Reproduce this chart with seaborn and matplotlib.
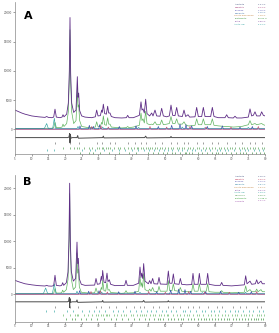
"""
plot.py
Two stacked Rietveld-style refinement plots (A and B) saved to out.png.
"""

import matplotlib
matplotlib.use('Agg')
import matplotlib.pyplot as plt
import seaborn as sns

# ---------------- panel A data ----------------
tot_a_x = [5, 6, 7, 8, 9, 10, 12, 14, 14.5, 15, 16, 16.6, 17.0, 17.4, 18.5, 19.1, 19.4, 19.7,
           20.5, 21.0, 21.3, 21.5, 21.7, 22.0, 22.6, 23.3, 23.5, 23.7, 23.9, 24.1, 24.4, 25.0,
           26, 27, 28, 29.1, 29.5, 29.9, 30.6, 31.0, 31.2, 31.5, 31.9, 32.4, 32.8, 33.1, 33.5,
           33.9, 35, 37, 38.4, 38.8, 39.2, 40.5, 42.3, 42.8, 43.1, 43.4, 43.8, 44.2, 44.6, 45.4,
           46.0, 46.4, 47.0, 47.5, 48.5, 49.0, 49.5, 50.5, 51.3, 51.8, 52.3, 53.0, 53.5, 54.0,
           55.2, 55.7, 56.2, 56.9, 57.4, 59.0, 59.5, 60.0, 61.0, 61.5, 62.0, 63.7, 64.2, 64.7,
           66, 68.0, 68.5, 69.0, 70.5, 71.0, 71.5, 73, 75.0, 75.5, 76.0, 76.5, 77.0, 77.5, 78.5,
           79.0, 79.5, 80]
tot_a_y = [3300, 3050, 2800, 2600, 2450, 2300, 2150, 2050, 2200, 2050, 2000, 2100, 3450, 2100,
           2000, 2100, 2500, 2150, 2600, 4500, 10000, 19100, 9500, 4500, 2900, 3300, 6000, 9000,
           5500, 6200, 3200, 2300, 2100, 2050, 2000, 2150, 3300, 2300, 2350, 3300, 2900, 4300,
           2700, 2600, 3950, 2800, 2800, 2200, 2000, 1950, 2000, 2400, 2000, 2000, 2400, 4700,
           3300, 3500, 2800, 5150, 2700, 2300, 2800, 2300, 3300, 2300, 2250, 3600, 2300, 2150,
           2300, 4150, 2400, 2350, 3750, 2300, 2200, 3300, 2200, 2500, 2100, 2150, 3750, 2200,
           2200, 3750, 2200, 2200, 3750, 2200, 2000, 2000, 2500, 2000, 1950, 2250, 1950, 1950,
           2100, 3500, 2300, 2400, 3000, 2300, 2300, 3000, 2400, 2300]

main_a_x = [5, 10, 16, 16.6, 17.0, 17.4, 18.5, 19.1, 19.4, 19.7, 20.5, 21.0, 21.3, 21.5, 21.7,
            22.0, 22.6, 23.3, 23.5, 23.7, 23.9, 24.1, 24.4, 25.0, 27, 29.1, 29.5, 29.9, 30.6,
            31.0, 31.2, 31.5, 31.9, 32.4, 32.8, 33.1, 33.5, 33.9, 37, 38.4, 38.8, 39.2, 40.5,
            42.3, 42.8, 43.1, 43.4, 43.8, 44.2, 44.6, 45.4, 46.0, 46.4, 47.0, 47.5, 48.5, 49.0,
            49.5, 50.5, 51.3, 51.8, 52.3, 53.0, 53.5, 54.0, 55.2, 55.7, 56.2, 56.9, 57.4, 59.0,
            59.5, 60.0, 61.0, 61.5, 62.0, 63.7, 64.2, 64.7, 66, 68.0, 68.5, 70.5, 73, 75.0, 75.5,
            76.0, 77.0, 77.5, 79.0, 79.5, 80]
main_a_y = [150, 150, 200, 250, 1200, 300, 300, 400, 900, 500, 1000, 3000, 8500, 17000, 8000,
            3000, 1000, 1500, 4000, 7000, 3800, 4200, 1500, 500, 300, 400, 1300, 500, 500,
            1200, 900, 2300, 800, 700, 2000, 900, 900, 400, 250, 300, 500, 300, 400,
            700, 2800, 1500, 1800, 1100, 3100, 1000, 800, 900, 800, 1300, 800, 800, 1600,
            800, 900, 1000, 2200, 1000, 1000, 1800, 900, 900, 1300, 800, 600, 600, 700,
            1800, 800, 800, 1800, 800, 800, 1800, 700, 600, 500, 500, 400, 500, 800, 1500,
            800, 1000, 800, 1000, 800, 700]

teal_a_x = [5, 13.8, 14.5, 15.0, 16.3, 16.8, 17.2, 23.6, 23.9, 24.2, 31.0, 31.3, 31.6,
            41.8, 42.1, 42.4, 54.9, 55.2, 55.5, 61.7, 62.0, 62.3, 74.7, 75.0, 75.3, 80]
teal_a_y = [150, 150, 1000, 150, 150, 1900, 150, 150, 500, 150, 150, 400, 150,
            150, 350, 150, 150, 400, 150, 150, 300, 150, 150, 350, 150, 150]

blue_a_x = [5, 24.2, 24.5, 24.8, 27.0, 27.3, 27.6, 28.2, 28.5, 28.8, 30.1, 30.4, 30.7,
            36.0, 36.3, 36.6, 41.0, 41.3, 41.6, 47.7, 48.0, 48.3, 51.7, 52.0, 52.3,
            54.2, 54.5, 54.8, 56.0, 56.3, 56.6, 57.7, 58.0, 58.3, 62.4, 62.7, 63.0,
            66.9, 67.2, 67.5, 72.2, 72.5, 72.8, 75.9, 76.2, 76.5, 80]
blue_a_y = [60, 60, 600, 60, 60, 700, 60, 60, 500, 60, 60, 800, 60,
            60, 500, 60, 60, 600, 60, 60, 500, 60, 60, 700, 60,
            60, 900, 60, 60, 800, 60, 60, 600, 60, 60, 500, 60,
            60, 600, 60, 60, 400, 60, 60, 500, 60, 60]

red_a_x = [5, 27.7, 28.0, 28.3, 30.5, 30.8, 31.1, 32.7, 33.0, 33.3, 45.2, 45.5, 45.8,
           50.2, 50.5, 50.8, 57.2, 57.5, 57.8, 62.0, 62.3, 62.6, 69.5, 69.8, 70.1,
           77.7, 78.0, 78.3, 80]
red_a_y = [30, 30, 500, 30, 30, 600, 30, 30, 400, 30, 30, 500, 30,
           30, 400, 30, 30, 500, 30, 30, 400, 30, 30, 400, 30,
           30, 500, 30, 30]

diff_a_x = [5, 20.8, 21.2, 21.4, 21.5, 21.6, 21.8, 22.2, 23.6, 23.8, 24.0, 31.3, 31.5, 31.7,
            43.9, 44.2, 44.5, 51.6, 51.8, 52.0, 80]
diff_a_y = [-1400, -1400, -1300, -700, -2300, -900, -1500, -1400, -1400, -1050, -1500,
            -1400, -1150, -1450, -1400, -1150, -1450, -1400, -1200, -1400, -1400]

ticks_a_1 = [17.0, 21.5, 24.1, 29.5, 31.0, 33.5, 35.0, 38.8, 41.0, 42.8, 44.2, 47.0, 49.0,
             51.8, 53.5, 55.7, 57.0, 59.5, 61.5, 64.2, 66.0, 68.5, 71.0, 73.0, 75.5, 77.0, 79.0]
ticks_a_2 = [19.4, 21.5, 22.8, 23.7, 24.1, 25.6, 27.2, 28.0, 29.5, 30.2, 31.0, 31.5, 32.3,
             32.8, 33.5, 34.6, 35.8, 36.6, 37.8, 38.8, 39.7, 40.6, 41.5, 42.0, 42.8, 43.4,
             44.2, 45.0, 45.6, 46.0, 47.0, 47.7, 48.4, 49.0, 50.0, 50.9, 51.8, 52.4, 53.5,
             54.3, 55.0, 55.7, 56.9, 57.6, 58.4, 59.5, 60.3, 61.5, 62.3, 63.1, 64.2, 65.0,
             66.1, 66.8, 67.7, 68.5, 69.4, 70.2, 71.0, 72.1, 73.0, 73.8, 74.6, 75.5, 76.3,
             77.0, 77.9, 79.0, 79.6]
ticks_a_3 = [14.5, 16.8, 25.2, 27.5, 29.0, 31.8, 34.0, 36.2, 38.0, 40.2, 41.9, 43.7, 45.3,
             46.8, 48.2, 49.6, 51.0, 52.1, 53.9, 55.2, 56.5, 58.0, 59.1, 60.7, 62.0, 63.5,
             65.5, 66.4, 68.0, 69.0, 70.6, 72.5, 74.0, 75.0, 76.8, 78.3, 79.3]
ticks_a_4 = [24.5, 27.3, 28.5, 30.4, 33.2, 36.3, 39.1, 41.3, 44.9, 46.3, 48.0, 49.3, 50.6,
             52.0, 53.1, 54.5, 55.9, 56.3, 57.2, 58.0, 59.8, 61.2, 62.7, 64.0, 65.2, 66.0,
             67.2, 68.3, 69.7, 71.4, 72.5, 73.5, 74.3, 76.2, 77.4, 78.6, 79.8]

legend_a_names = ['Anorthite', 'Hematite', 'Diopside', 'Gehlenite', 'Calcite magnesian',
                  'Cristobalite', 'Rutile', 'Albite low']
legend_a_values = ['2.61 %', '3.14 %', '1.75 %', '4.02 %', '1.28 %', '80.94 %', '0.82 %',
                   '5.44 %']
legend_a_colors = ['#3b4a7a', '#a03070', '#4a4ab0', '#3a70a8', '#c0803a', '#2e8b2e',
                   '#7a3a9a', '#2aa0a0']

# ---------------- panel B data ----------------
tot_b_x = [5, 6, 7, 8, 9, 10, 12, 14, 14.5, 15, 16, 16.6, 17.0, 17.4, 18.5, 19.0, 19.3, 19.6,
           20.4, 20.9, 21.2, 21.4, 21.6, 21.9, 22.5, 23.2, 23.4, 23.6, 23.8, 24.0, 24.3, 24.9,
           26, 28.9, 29.3, 29.7, 30.5, 30.9, 31.1, 31.3, 31.7, 32.2, 32.6, 32.9, 33.3, 33.7,
           35, 37.9, 38.3, 38.7, 40.5, 42.1, 42.5, 42.8, 43.0, 43.3, 43.6, 44.0, 45.0, 45.4,
           45.8, 46.3, 46.7, 47.8, 48.2, 48.6, 50.6, 51.0, 51.4, 52.1, 52.5, 52.9, 54.2, 54.6,
           55.0, 56.5, 58.0, 58.4, 58.8, 59.9, 60.3, 60.7, 62.4, 62.8, 63.2, 65, 66.6, 67.0,
           67.4, 70, 73.8, 74.2, 74.6, 75.5, 76.0, 77.1, 77.5, 77.9, 78.8, 79.2, 80]
tot_b_y = [2650, 2400, 2200, 2000, 1900, 1800, 1650, 1580, 1700, 1580, 1550, 1650, 3600, 1700,
           1600, 1700, 2200, 1700, 2200, 4200, 10500, 20950, 10000, 4300, 2500, 3000, 6500,
           9850, 5800, 6800, 2900, 1900, 1700, 1750, 3000, 1900, 2000, 3400, 2600, 4500, 2300,
           2200, 4000, 2400, 2750, 1900, 1650, 1700, 2650, 1700, 1700, 2100, 5150, 3200, 4000,
           3000, 5800, 2500, 2000, 2600, 2000, 3000, 2000, 1950, 3200, 1950, 1900, 4400, 2100,
           2100, 3850, 2000, 1900, 3000, 1900, 1800, 1850, 3950, 1900, 1900, 3950, 1900, 1900,
           3950, 1900, 1700, 1700, 2250, 1700, 1600, 1800, 3500, 2000, 2500, 1900, 2000, 2750,
           2000, 2500, 2000, 2000]

main_b_x = [5, 10, 16, 16.6, 17.0, 17.4, 18.5, 19.0, 19.3, 19.6, 20.4, 20.9, 21.2, 21.4, 21.6,
            21.9, 22.5, 23.2, 23.4, 23.6, 23.8, 24.0, 24.3, 24.9, 27, 28.9, 29.3, 29.7, 30.5,
            30.9, 31.1, 31.3, 31.7, 32.2, 32.6, 32.9, 33.3, 33.7, 37, 37.9, 38.3, 38.7, 40.5,
            42.1, 42.5, 42.8, 43.0, 43.3, 43.6, 44.0, 45.0, 45.4, 45.8, 46.3, 46.7, 47.8, 48.2,
            48.6, 50.6, 51.0, 51.4, 52.1, 52.5, 52.9, 54.2, 54.6, 55.0, 56.5, 58.0, 58.4, 58.8,
            59.9, 60.3, 60.7, 62.4, 62.8, 63.2, 65, 66.6, 67.0, 67.4, 70, 73.8, 74.2, 74.6,
            75.5, 76.0, 77.1, 77.5, 77.9, 78.8, 79.2, 80]
main_b_y = [100, 100, 150, 200, 1100, 250, 250, 300, 800, 400, 900, 2800, 9000, 19000, 8500,
            2900, 900, 1400, 4500, 7800, 4000, 4800, 1400, 400, 250, 300, 1200, 400, 400,
            1300, 900, 2600, 700, 600, 2200, 800, 900, 350, 200, 250, 700, 250, 300,
            600, 3300, 1500, 2200, 1300, 3900, 900, 600, 1000, 600, 1300, 600, 500, 1500,
            600, 600, 2600, 700, 700, 2000, 700, 600, 1300, 600, 500, 500, 2000, 600,
            600, 2000, 600, 600, 2000, 500, 400, 400, 700, 400, 300, 400, 1600, 500,
            900, 500, 500, 1000, 500, 900, 500, 500]

teal_b_x = [5, 13.5, 14.2, 14.8, 16.2, 16.8, 17.3, 23.3, 23.6, 23.9, 30.7, 31.0, 31.3,
            42.2, 42.5, 42.8, 53.9, 54.2, 54.5, 60.9, 61.2, 61.5, 73.9, 74.2, 74.5, 80]
teal_b_y = [120, 120, 1200, 120, 120, 2000, 120, 120, 600, 120, 120, 450, 120,
            120, 400, 120, 120, 450, 120, 120, 350, 120, 120, 400, 120, 120]

blue_b_x = [5, 24.1, 24.4, 24.7, 26.8, 27.1, 27.4, 29.9, 30.2, 30.5, 35.8, 36.1, 36.4,
            40.7, 41.0, 41.3, 47.2, 47.5, 47.8, 51.4, 51.7, 52.0, 53.8, 54.1, 54.4,
            55.7, 56.0, 56.3, 57.4, 57.7, 58.0, 61.9, 62.2, 62.5, 66.4, 66.7, 67.0,
            71.8, 72.1, 72.4, 75.6, 75.9, 76.2, 80]
blue_b_y = [60, 60, 700, 60, 60, 600, 60, 60, 700, 60, 60, 500, 60,
            60, 600, 60, 60, 500, 60, 60, 800, 60, 60, 1000, 60,
            60, 900, 60, 60, 600, 60, 60, 500, 60, 60, 600, 60,
            60, 400, 60, 60, 500, 60, 60]

red_b_x = [5, 27.5, 27.8, 28.1, 30.3, 30.6, 30.9, 32.4, 32.7, 33.0, 44.8, 45.1, 45.4,
           49.8, 50.1, 50.4, 56.8, 57.1, 57.4, 61.6, 61.9, 62.2, 69.0, 69.3, 69.6,
           77.2, 77.5, 77.8, 80]
red_b_y = [30, 30, 550, 30, 30, 650, 30, 30, 450, 30, 30, 550, 30,
           30, 400, 30, 30, 550, 30, 30, 450, 30, 30, 400, 30,
           30, 550, 30, 30]

diff_b_x = [5, 20.7, 21.1, 21.3, 21.4, 21.5, 21.7, 22.1, 23.4, 23.6, 23.8, 31.1, 31.3, 31.5,
            43.3, 43.6, 43.9, 50.8, 51.0, 51.2, 80]
diff_b_y = [-1400, -1400, -1300, -600, -2500, -800, -1500, -1400, -1400, -1050, -1500,
            -1400, -1150, -1450, -1400, -1150, -1450, -1400, -1200, -1400, -1400]

ticks_b_1 = [17.0, 21.4, 24.0, 29.3, 30.9, 33.3, 35.2, 38.3, 40.8, 42.5, 43.6, 46.3, 48.2,
             51.0, 52.5, 54.6, 56.8, 58.4, 60.3, 62.8, 65.5, 67.0, 70.3, 72.6, 74.2, 77.5, 78.8]
ticks_b_2 = [14.2, 16.8, 20.6, 22.4, 25.0, 27.3, 28.6, 30.2, 32.0, 34.4, 36.0, 37.5, 39.4,
             41.3, 42.9, 44.6, 45.9, 47.4, 49.0, 50.3, 51.7, 53.2, 55.4, 56.1, 57.5, 59.2,
             61.0, 61.9, 63.7, 64.6, 66.2, 68.1, 69.4, 71.0, 72.0, 73.3, 75.1, 76.4, 78.1, 79.5]
ticks_b_3 = [19.3, 21.4, 22.9, 23.6, 24.0, 25.8, 27.0, 28.2, 29.3, 30.0, 30.9, 31.3, 32.2,
             32.6, 33.3, 34.8, 35.6, 36.9, 37.6, 38.3, 39.9, 40.4, 41.7, 42.5, 43.0, 43.6,
             44.3, 45.4, 46.3, 47.1, 48.2, 48.9, 49.8, 50.5, 51.0, 52.5, 53.6, 54.6, 55.8,
             56.6, 57.3, 58.4, 59.6, 60.3, 61.4, 62.8, 63.9, 64.9, 65.8, 67.0, 67.9, 68.8,
             70.0, 70.9, 71.7, 72.8, 73.6, 74.2, 75.3, 76.1, 77.5, 78.3, 78.8, 79.7]
ticks_b_4 = [20.2, 22.0, 23.1, 24.7, 26.3, 27.9, 29.7, 31.6, 33.7, 35.4, 37.2, 39.0, 40.6,
             42.1, 44.0, 45.1, 46.7, 47.8, 48.6, 49.4, 50.8, 51.9, 52.8, 53.9, 54.9, 55.5,
             56.9, 57.9, 58.8, 59.9, 60.7, 61.6, 62.4, 63.3, 64.2, 65.1, 66.0, 66.8, 67.6,
             68.5, 69.2, 70.4, 71.3, 72.3, 73.1, 73.9, 74.8, 75.7, 76.6, 77.2, 78.0, 78.9,
             79.4]

legend_b_names = ['Anorthite', 'Hematite', 'Diopside', 'Gehlenite', 'Calcite magnesian',
                  'Rutile', 'Albite low', 'Microcline', 'Cristobalite', 'Tridymite']
legend_b_values = ['2.05 %', '3.60 %', '1.12 %', '3.87 %', '1.51 %', '0.97 %', '4.93 %',
                   '6.20 %', '71.38 %', '4.37 %']
legend_b_colors = ['#3b4a7a', '#c03050', '#5050b0', '#2a80a0', '#c0803a', '#7a3a9a',
                   '#2aa0a0', '#3a8a3a', '#2e9b2e', '#9a4aa8']

x_ticks = [5, 10, 15, 20, 25, 30, 35, 40, 45, 50, 55, 60, 65, 70, 75, 80]
y_ticks = [0, 5000, 10000, 15000, 20000]

C_TOTAL = '#5e2d86'
C_MAIN = '#5fb35f'
C_TEAL = '#2fa3a0'
C_BLUE = '#3348a8'
C_RED = '#c0406a'
C_DIFF = '#4a4a4a'

sns.set_theme(style='white')
plt.rcParams['font.family'] = ['DejaVu Sans']


def draw_panel(ax, curves, diff, tick_rows, letter, letter_pos, legend, legend_rows, ylim):
    for xs, ys, color, lw in curves:
        sns.lineplot(x=xs, y=ys, ax=ax, color=color, lw=lw, estimator=None, sort=False)
    sns.lineplot(x=diff[0], y=diff[1], ax=ax, color=C_DIFF, lw=0.7, estimator=None, sort=False)
    for pos, level, color in tick_rows:
        ax.plot(pos, [level] * len(pos), ls='none', marker='|', ms=1.6, mew=0.45, color=color)

    ax.set_xlim(5, 80)
    ax.set_ylim(*ylim)
    ax.set_xticks(x_ticks)
    ax.set_yticks(y_ticks)
    ax.tick_params(axis='both', labelsize=2.0, length=1.2, width=0.4, pad=0.8,
                   colors='#555555', direction='out', bottom=True, left=True)
    for side in ('top', 'right'):
        ax.spines[side].set_visible(False)
    for side in ('left', 'bottom'):
        ax.spines[side].set_color('#888888')
        ax.spines[side].set_linewidth(0.5)
    ax.set_xlabel('')
    ax.set_ylabel('')

    ax.text(letter_pos[0], letter_pos[1], letter, transform=ax.transAxes,
            fontsize=8, fontweight='bold', ha='center', va='center', color='black')

    names, values, colors = legend
    y0, dy = legend_rows
    for i, (n, v, c) in enumerate(zip(names, values, colors)):
        ax.text(0.878, y0 - i * dy, n, transform=ax.transAxes, fontsize=1.5,
                color=c, ha='left', va='center')
        ax.text(0.97, y0 - i * dy, v, transform=ax.transAxes, fontsize=1.5,
                color=c, ha='left', va='center')


fig = plt.figure(figsize=(2.79, 3.33), dpi=100)
ax_a = fig.add_axes([15 / 279, 1 - 154 / 333, 250 / 279, 152.3 / 333])
ax_b = fig.add_axes([15 / 279, 1 - 321.7 / 333, 250 / 279, 146.7 / 333])

draw_panel(
    ax_a,
    [(main_a_x, main_a_y, C_MAIN, 0.5),
     (teal_a_x, teal_a_y, C_TEAL, 0.45),
     (blue_a_x, blue_a_y, C_BLUE, 0.45),
     (red_a_x, red_a_y, C_RED, 0.4),
     (tot_a_x, tot_a_y, C_TOTAL, 0.6)],
    (diff_a_x, diff_a_y),
    [(ticks_a_1, -2400, '#666666'), (ticks_a_2, -3100, '#4a9a4a'),
     (ticks_a_3, -3550, '#2fa3a0'), (ticks_a_4, -3950, '#3a8a3a')],
    'A', (0.052, 0.906),
    (legend_a_names, legend_a_values, legend_a_colors),
    (0.982, 0.0185),
    (-4200, 21800),
)

draw_panel(
    ax_b,
    [(main_b_x, main_b_y, C_MAIN, 0.5),
     (teal_b_x, teal_b_y, C_TEAL, 0.45),
     (blue_b_x, blue_b_y, C_BLUE, 0.45),
     (red_b_x, red_b_y, C_RED, 0.4),
     (tot_b_x, tot_b_y, C_TOTAL, 0.6)],
    (diff_b_x, diff_b_y),
    [(ticks_b_1, -2400, '#666666'), (ticks_b_2, -3150, '#2fa3a0'),
     (ticks_b_3, -3900, '#5fb35f'), (ticks_b_4, -4650, '#2e8b2e')],
    'B', (0.048, 0.952),
    (legend_b_names, legend_b_values, legend_b_colors),
    (0.99, 0.0185),
    (-5150, 22500),
)

fig.savefig('out.png', dpi=100)
plt.close(fig)
